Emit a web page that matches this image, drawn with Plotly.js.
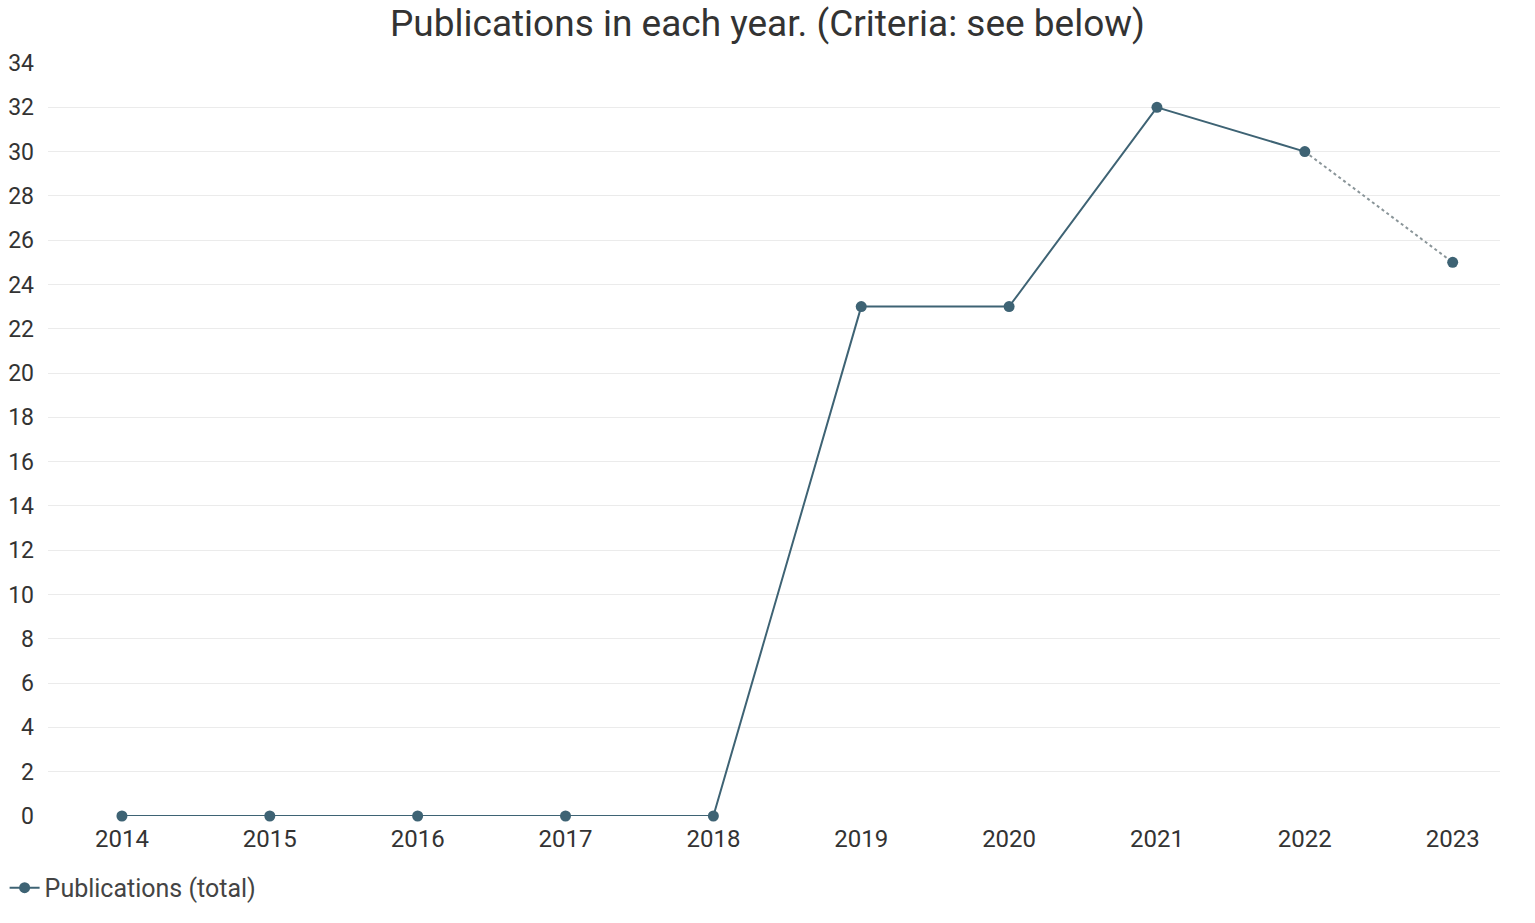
<!DOCTYPE html>
<html>
<head>
<meta charset="utf-8">
<script src="https://cdn.plot.ly/plotly-3.0.1.min.js"></script>
<style>html,body{margin:0;padding:0;background:#fff;}#chart{width:1535px;height:923px;}</style>
</head>
<body>
<div id="chart"></div>
<script>
const years = [2014, 2015, 2016, 2017, 2018, 2019, 2020, 2021, 2022, 2023];
const publications = [0, 0, 0, 0, 0, 23, 23, 32, 30, 25];
const yTicks = [0, 2, 4, 6, 8, 10, 12, 14, 16, 18, 20, 22, 24, 26, 28, 30, 32, 34];

const lineColor = '#3e6374';
const solidYears = years.slice(0, 9);
const solidVals = publications.slice(0, 9);
const dotYears = years.slice(8);
const dotVals = publications.slice(8);

const traces = [
  {
    x: dotYears, y: dotVals, type: 'scatter', mode: 'lines',
    line: {color: '#8a9599', width: 2, dash: 'dot'},
    showlegend: false, hoverinfo: 'skip', cliponaxis: false
  },
  {
    x: solidYears, y: solidVals, type: 'scatter', mode: 'lines+markers',
    name: 'Publications (total)',
    line: {color: lineColor, width: 2},
    marker: {color: lineColor, size: 11},
    cliponaxis: false
  },
  {
    x: [years[9]], y: [publications[9]], type: 'scatter', mode: 'markers',
    marker: {color: lineColor, size: 11},
    showlegend: false, cliponaxis: false
  }
];

const layout = {
  width: 1535, height: 923,
  paper_bgcolor: '#fff', plot_bgcolor: '#fff',
  font: {family: 'Roboto, sans-serif', color: '#333', size: 24},
  title: {text: 'Publications in each year. (Criteria: see below)', font: {size: 37, color: '#333'}, x: 0.5, xanchor: 'center', y: 0.975, yanchor: 'middle'},
  margin: {l: 48, r: 35, t: 63, b: 107, autoexpand: false},
  xaxis: {
    type: 'linear', range: [2013.5, 2023.32],
    tickvals: years, ticktext: years.map(String),
    showgrid: false, zeroline: false, showline: false,
    ticks: '', tickfont: {size: 24, color: '#333'}, ticklabelstandoff: 6
  },
  yaxis: {
    range: [0, 34], tickvals: yTicks, ticktext: yTicks.map(String),
    showgrid: true, gridcolor: '#ebebeb', gridwidth: 1,
    zeroline: false, showline: false, ticks: '',
    tickfont: {size: 23, color: '#333'}, ticklabelstandoff: 13
  },
  showlegend: true,
  legend: {orientation: 'h', xref: 'container', yref: 'container', x: 0.003, xanchor: 'left', y: 0.038, yanchor: 'middle', font: {size: 25, color: '#444'}},
  hovermode: false
};

Plotly.newPlot('chart', traces, layout, {displayModeBar: false, staticPlot: true});
</script>
</body>
</html>
